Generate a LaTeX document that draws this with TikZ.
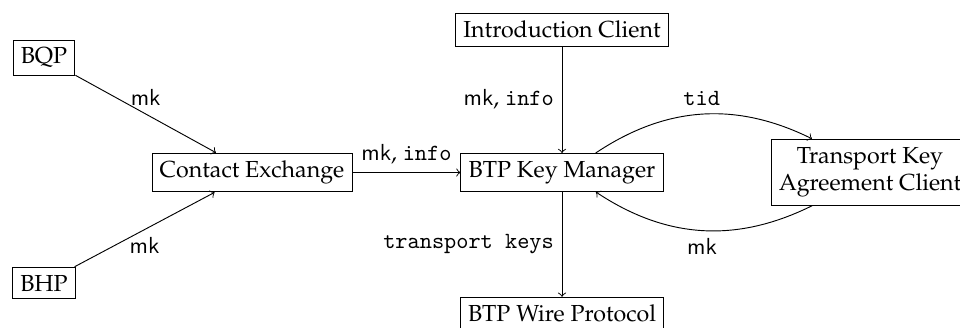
\documentclass[tikz,border=0pt]{standalone}
\usepackage[T1]{fontenc}
\usepackage{mathpazo}
\newcommand{\lsf}[1]{{\fontencoding{TU}\fontfamily{lmss}\selectfont #1}}
\newcommand{\ltt}[1]{{\fontencoding{TU}\fontfamily{lmtt}\selectfont #1}}
\begin{document}
\begin{tikzpicture}[x=0.431pt,y=-0.431pt,
  box/.style={draw, align=center},
  flow/.style={->}]
\useasboundingbox (0,0) rectangle (960,327);
\node[box] (bqp) at (44,58) {BQP};
\node[box] (bhp) at (44,283) {BHP};
\node[box] (ce) at (252,172.5) {Contact Exchange};
\node[box] (km) at (562,172.5) {BTP Key Manager};
\node[box] (ic) at (562,29.7) {Introduction Client};
\node[box] (wire) at (562,313.6) {BTP Wire Protocol};
\node[box] (tkac) at (870,172.2) {Transport Key\\Agreement Client};

\draw[flow] (bqp) -- node[above] {\lsf{mk}} (ce);
\draw[flow] (bhp) -- node[below] {\lsf{mk}} (ce);
\draw[flow] (ce) -- node[above] {\lsf{mk}, \ltt{info}} (km);
\draw[flow] (ic) -- node[left] {\lsf{mk}, \ltt{info}} (km);
\draw[flow] (km) -- node[left] {\ltt{transport keys}} (wire);
\draw[flow] (km) to[bend left] node[above] {\ltt{tid}} (tkac);
\draw[flow] (tkac) to[bend left] node[below] {\lsf{mk}} (km);
\end{tikzpicture}
\end{document}
